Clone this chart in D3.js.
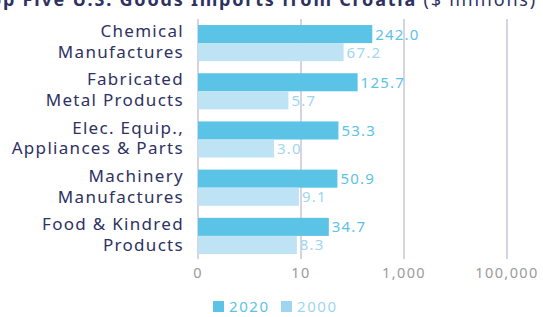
<!DOCTYPE html>
<html>
<head>
<meta charset="utf-8">
<script src="https://cdn.jsdelivr.net/npm/d3@7"></script>
<style>
  body { margin: 0; background: #fff; }
  svg { display: block; }
</style>
</head>
<body>
<div id="chart"></div>
<script>
const categories = [
  ["Chemical", "Manufactures"],
  ["Fabricated", "Metal Products"],
  ["Elec. Equip.,", "Appliances & Parts"],
  ["Machinery", "Manufactures"],
  ["Food & Kindred", "Products"]
];
const values2020 = [242.0, 125.7, 53.3, 50.9, 34.7];
const values2000 = [67.2, 5.7, 3.0, 9.1, 8.3];
const tickValues = [0.1, 10, 1000, 100000];
const tickLabels = ["0", "10", "1,000", "100,000"];
const seriesNames = ["2020", "2000"];

const width = 543, height = 317;
const fontFamily = "'Noto Sans', sans-serif";

const col2020 = "#5bc3e5";
const col2000 = "#bde3f4";
const lab2020 = "#5bc3e5";
const lab2000 = "#9fd6ef";
const navy = "#2e3162";

var svg = d3.select("#chart")
    .append("svg")
    .attr("width", width)
    .attr("height", height)
    .style("font-family", fontFamily);

// Scales
var xScale = d3.scaleLog()
    .domain([0.1, 100000])
    .range([198, 507]);

var yScale = d3.scaleBand()
    .domain(d3.range(categories.length))
    .range([19, 260])
    .paddingInner(0.25)
    .paddingOuter(0.125);

var barH = yScale.bandwidth() / 2;

// Title (partly above the visible area, as in the source)
var title = svg.append("text")
    .attr("x", 537)
    .attr("y", 6)
    .attr("text-anchor", "end")
    .style("font-size", "18px")
    .style("letter-spacing", "1.8px")
    .style("fill", navy);
title.append("tspan").style("font-weight", "bold").text("Top Five U.S. Goods Imports from Croatia ");
title.append("tspan").style("font-weight", "normal").text("($ millions)");

// Gridlines
svg.append("g")
    .selectAll("line")
    .data(tickValues)
    .join("line")
    .attr("x1", d => xScale(d))
    .attr("x2", d => xScale(d))
    .attr("y1", 19)
    .attr("y2", 259)
    .attr("stroke", "#d6d4e4")
    .attr("stroke-width", 2);

// Tick labels
svg.append("g")
    .selectAll("text")
    .data(tickValues)
    .join("text")
    .attr("x", d => xScale(d))
    .attr("y", 278)
    .attr("text-anchor", "middle")
    .style("font-size", "14.5px")
    .style("letter-spacing", "1.4px")
    .style("fill", "#9a9a9a")
    .text((d, i) => tickLabels[i]);

// Bars
var groups = svg.append("g")
    .selectAll("g")
    .data(categories)
    .join("g")
    .attr("transform", (d, i) => `translate(0, ${yScale(i)})`);

groups.append("rect")
    .attr("x", xScale(0.1))
    .attr("y", 0)
    .attr("width", (d, i) => xScale(values2020[i]) - xScale(0.1))
    .attr("height", barH)
    .attr("fill", col2020);

groups.append("rect")
    .attr("x", xScale(0.1))
    .attr("y", barH)
    .attr("width", (d, i) => xScale(values2000[i]) - xScale(0.1))
    .attr("height", barH)
    .attr("fill", col2000);

// Value labels
groups.append("text")
    .attr("x", (d, i) => xScale(values2020[i]) + 3)
    .attr("y", barH / 2 + 5.5)
    .style("font-size", "15px")
    .style("letter-spacing", "1.2px")
    .style("fill", lab2020)
    .text((d, i) => values2020[i].toFixed(1));

groups.append("text")
    .attr("x", (d, i) => xScale(values2000[i]) + 3)
    .attr("y", barH * 1.5 + 5.5)
    .style("font-size", "15px")
    .style("letter-spacing", "1.2px")
    .style("fill", lab2000)
    .text((d, i) => values2000[i].toFixed(1));

// Category labels
groups.append("text")
    .attr("text-anchor", "end")
    .style("font-size", "17px")
    .style("letter-spacing", "1.3px")
    .style("fill", navy)
    .selectAll("tspan")
    .data(d => d)
    .join("tspan")
    .attr("x", 184)
    .attr("y", (d, j) => barH - 6 + j * 21)
    .text(d => d);

// Legend
var legend = svg.append("g")
    .selectAll("g")
    .data(seriesNames)
    .join("g")
    .attr("transform", (d, i) => `translate(${213 + i * 68}, 301)`);

legend.append("rect")
    .attr("width", 11)
    .attr("height", 11)
    .attr("fill", (d, i) => i === 0 ? col2020 : "#9fd6ef");

legend.append("text")
    .attr("x", 16)
    .attr("y", 11)
    .style("font-size", "15px")
    .style("letter-spacing", "1.6px")
    .style("fill", (d, i) => i === 0 ? lab2020 : lab2000)
    .text(d => d);
</script>
</body>
</html>
